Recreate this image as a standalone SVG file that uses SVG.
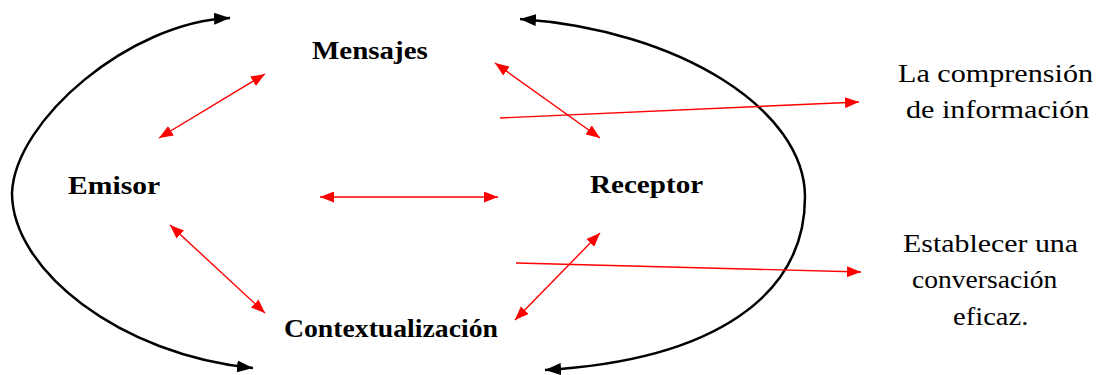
<svg xmlns="http://www.w3.org/2000/svg" width="1099" height="375" viewBox="0 0 1099 375">
<defs>
<marker id="bh" markerUnits="userSpaceOnUse" viewBox="0 0 16 12" refX="16" refY="6" markerWidth="16" markerHeight="12" orient="auto-start-reverse"><path d="M0,0 L16,6 L0,12 z" fill="#000"/></marker>
<marker id="rh" markerUnits="userSpaceOnUse" viewBox="0 0 14 11" refX="14" refY="5.5" markerWidth="14" markerHeight="11" orient="auto-start-reverse"><path d="M0,0 L14,5.5 L0,11 z" fill="#ff0000"/></marker>
</defs>
<style>
.arc{fill:none;stroke:#000;stroke-width:2.5;marker-start:url(#bh);marker-end:url(#bh)}
.dbl{fill:none;stroke:#ff0000;stroke-width:1.4;marker-start:url(#rh);marker-end:url(#rh)}
.sgl{fill:none;stroke:#ff0000;stroke-width:1.4;marker-end:url(#rh)}
text{font-family:"Times New Roman","Liberation Serif",serif;fill:#000}
.lbl{font-weight:bold;font-size:26px}
.out{font-size:26px}
</style>
<g id="connectors">
<path class="arc" d="M230,18 C130,22 15,120 12,193 C12,270 120,355 253,368"/>
<path class="arc" d="M520,19 C680,30 805,110 805,197 C805,295 715,360 545,370"/>
<line class="dbl" x1="159" y1="138" x2="265" y2="74"/>
<line class="dbl" x1="170" y1="225" x2="265" y2="313"/>
<line class="dbl" x1="320" y1="197" x2="498" y2="197"/>
<line class="dbl" x1="495" y1="63" x2="600" y2="138"/>
<line class="dbl" x1="600" y1="233" x2="515" y2="320"/>
<line class="sgl" x1="500" y1="118" x2="859" y2="102"/>
<line class="sgl" x1="516" y1="263" x2="861" y2="272"/>
</g>
<g id="mensajes"><text class="lbl" font-family="Times New Roman, Liberation Serif, serif" transform="translate(312,59) scale(1.115,1)">Mensajes</text></g>
<g id="emisor"><text class="lbl" font-family="Times New Roman, Liberation Serif, serif" transform="translate(68,194) scale(1.14,1)">Emisor</text></g>
<g id="receptor"><text class="lbl" font-family="Times New Roman, Liberation Serif, serif" transform="translate(590,193) scale(1.12,1)">Receptor</text></g>
<g id="contextualizacion"><text class="lbl" font-family="Times New Roman, Liberation Serif, serif" transform="translate(284,337) scale(1.066,1)">Contextualización</text></g>
<g id="comprension">
<text class="out" font-family="Times New Roman, Liberation Serif, serif" transform="translate(898,82) scale(1.16,1)">La comprensión</text>
<text class="out" font-family="Times New Roman, Liberation Serif, serif" transform="translate(906,118) scale(1.16,1)">de información</text>
</g>
<g id="conversacion">
<text class="out" font-family="Times New Roman, Liberation Serif, serif" transform="translate(903,252) scale(1.15,1)">Establecer una</text>
<text class="out" font-family="Times New Roman, Liberation Serif, serif" transform="translate(912,288) scale(1.06,1)">conversación</text>
<text class="out" font-family="Times New Roman, Liberation Serif, serif" transform="translate(953,325) scale(1.1,1)">eficaz.</text>
</g>
</svg>
